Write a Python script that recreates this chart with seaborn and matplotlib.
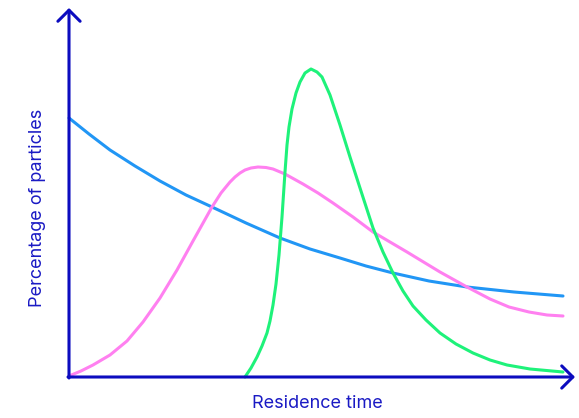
import pandas as pd
import seaborn as sns
import matplotlib.pyplot as plt

# curve points (x = residence time, y = percentage, arbitrary units)
blue_x = [0, 20, 41, 66, 91, 117, 143, 177, 211, 241, 271, 297, 324, 360, 398, 445, 494]
blue_y = [259, 243, 227, 211, 196, 182, 170, 154, 139, 128, 119, 111, 104, 96, 90, 85, 81]

pink_x = [0, 12, 24, 41, 58, 74, 91, 108, 124, 143, 152, 161, 166, 171, 176, 182, 189, 197, 204,
          216, 234, 249, 264, 284, 304, 338, 371, 398, 421, 440, 460, 478, 494]
pink_y = [1, 6, 12, 22, 36, 55, 79, 107, 136, 170, 184, 195, 200, 204, 207, 209, 210, 209.5, 208,
          203, 193, 184, 174, 160, 145, 125, 105, 90, 78, 70, 65, 62, 61]

green_x = [176, 182, 188, 193, 198, 201, 204, 207, 210, 213, 216, 218, 220, 223, 227, 231, 236,
           242, 248, 253, 261, 271, 281, 291, 304, 314, 324, 334, 344, 357, 371, 387, 404,
           421, 438, 461, 494]
green_y = [0, 9, 20, 31, 44, 56, 72, 93, 122, 160, 205, 232, 250, 268, 284, 295, 304,
           308, 305, 300, 282, 252, 220, 189, 149, 125, 104, 86, 71, 57, 44, 33, 24,
           17, 12, 8, 5]

axis_color = "#0c0cbf"
label_color = "#1a1ac4"

sns.set_style("white")
plt.rcParams['font.family'] = ['Inter', 'DejaVu Sans']

df = pd.concat([
    pd.DataFrame({"t": blue_x, "p": blue_y, "curve": "blue"}),
    pd.DataFrame({"t": pink_x, "p": pink_y, "curve": "pink"}),
    pd.DataFrame({"t": green_x, "p": green_y, "curve": "green"}),
])

fig = plt.figure(figsize=(5.79, 4.18), dpi=100)
ax = fig.add_axes([0, 0, 1, 1])
sns.lineplot(data=df, x="t", y="p", hue="curve", sort=False, legend=False,
             palette={"blue": "#2196f5", "pink": "#ff80f0", "green": "#1ef27a"},
             linewidth=2.2, ax=ax)
for line in ax.get_lines():
    line.set_solid_joinstyle("round")

ax.set_xlim(-69, 510)
ax.set_ylim(-41, 377)
ax.axis("off")

# axes drawn as arrows
arrow = dict(arrowstyle="->,head_length=0.8,head_width=0.8", lw=2.2, color=axis_color,
             shrinkA=0, shrinkB=0)
ax.annotate("", xy=(506, 0), xytext=(-1, 0), arrowprops=arrow)
ax.annotate("", xy=(0, 369), xytext=(0, -1), arrowprops=arrow)

ax.text(248, -27, "Residence time", color=label_color, fontsize=13, ha="center", va="center")
ax.text(-31, 169, "Percentage of particles", color=label_color, fontsize=13,
        ha="center", va="center", rotation=90)

plt.savefig("out.png", dpi=100)
